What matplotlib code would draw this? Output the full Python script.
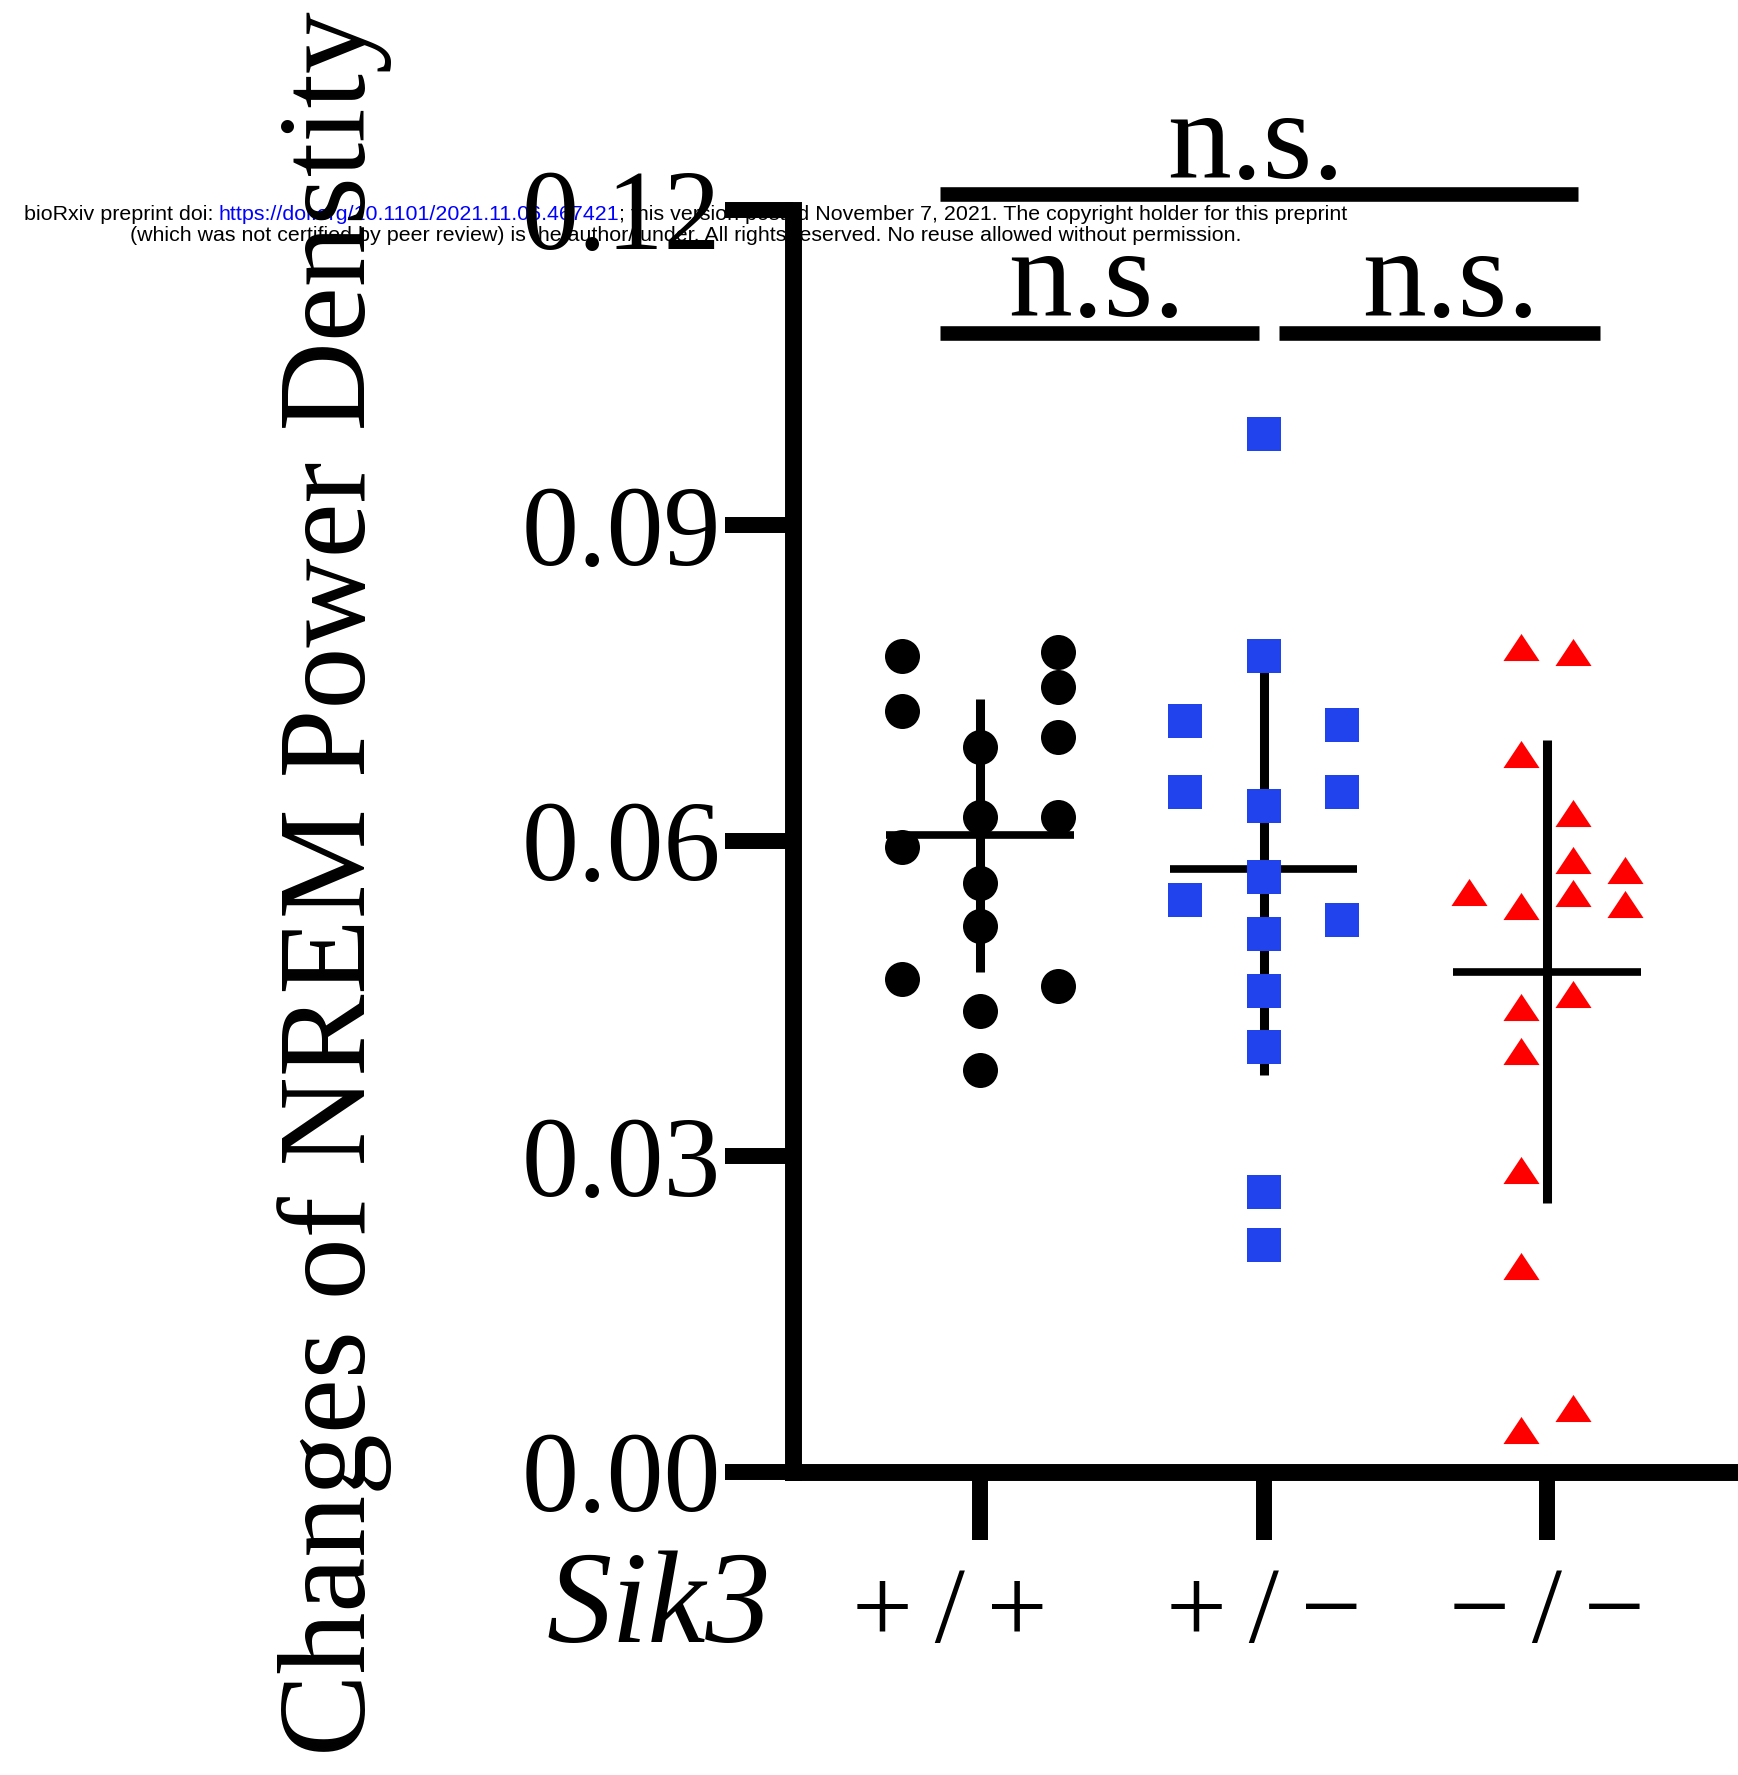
import matplotlib.pyplot as plt
import matplotlib.transforms as mtransforms
import numpy as np

plt.rcParams['font.family'] = ['Liberation Serif', 'DejaVu Serif']

# change of NREM power density
genotypes = ["+\u2009/\u2009+", "+\u2009/\u2009\u2212", "\u2212\u2009/\u2009\u2212"]
wt = [0.0775, 0.0723, 0.0594, 0.0468,
      0.0689, 0.0622, 0.0560, 0.0519, 0.0438, 0.0382,
      0.0779, 0.0746, 0.0698, 0.0622, 0.0462]
het = [0.0714, 0.0646, 0.0543,
       0.0987, 0.0775, 0.0633, 0.0565, 0.0511, 0.0457, 0.0404, 0.0266, 0.0215,
       0.0710, 0.0646, 0.0524]
ko = [0.0551,
      0.0784, 0.0682, 0.0538, 0.0442, 0.0400, 0.0287, 0.0195, 0.0039,
      0.0779, 0.0626, 0.0581, 0.0550, 0.0454, 0.0060,
      0.0572, 0.0540]

# swarm column of each point (layout only)
wt_col = [-3] * 4 + [0] * 6 + [3] * 5
het_col = [-3] * 3 + [0] * 9 + [3] * 3
ko_col = [-3] + [-1] * 8 + [1] * 6 + [3] * 2
col_step = 0.092

# pairwise comparisons (all n.s.)
comparisons = [(0, 1, 'n.s.'), (1, 2, 'n.s.'), (0, 2, 'n.s.')]

W, H = 1738, 1775
fig = plt.figure(figsize=(W / 100, H / 100), dpi=100)
ax = fig.add_axes([793 / W, 303.5 / H, 1 - 793 / W, 1262 / H])
ax.patch.set_alpha(0)

groups = [
    (wt, wt_col, 'o', 'black', 25.2),
    (het, het_col, 's', '#2043EE', 23.8),
    (ko, ko_col, [(-1, -0.75), (1, -0.75), (0, 0.75)], '#FF0000', 26),
]

for i, (vals, cols, mk, c, ms) in enumerate(groups):
    vals = np.array(vals)
    m = vals.mean()
    sd = vals.std(ddof=1)
    ax.plot([i, i], [m - sd, m + sd], color='k', lw=6.5, solid_capstyle='butt', zorder=2)
    ax.plot([i - 0.33, i + 0.33], [m, m], color='k', lw=5.5, solid_capstyle='butt', zorder=2)
    xs = i + np.array(cols) * col_step
    ax.plot(xs, vals, linestyle='none', marker=mk, ms=ms, color=c,
            markeredgewidth=0, clip_on=False, zorder=3)

ax.set_xlim(-0.6596, 2.6737)
ax.set_ylim(0, 0.12)
ax.set_yticks([0, 0.03, 0.06, 0.09, 0.12])
ax.set_yticklabels(['%.2f' % v for v in [0, 0.03, 0.06, 0.09, 0.12]])
ax.set_xticks([0, 1, 2])
ax.set_xticklabels(genotypes)
ax.tick_params(axis='both', length=49, width=11.5, color='black')
ax.tick_params(axis='y', pad=3, labelsize=82)
ax.tick_params(axis='x', pad=20, labelsize=78)
for s in ['top', 'right']:
    ax.spines[s].set_visible(False)
for s in ['left', 'bottom']:
    ax.spines[s].set_linewidth(12.2)

# first genotype label sits a little left of its tick in the original
lab0 = ax.get_xticklabels()[0]
lab0.set_transform(lab0.get_transform() + mtransforms.ScaledTranslation(-0.3, 0, fig.dpi_scale_trans))

# significance bars
bar_y = {(0, 1): 0.10826, (1, 2): 0.10826, (0, 2): 0.12143}
bar_x = {(0, 1): (-0.141, 0.984), (1, 2): (1.055, 2.187), (0, 2): (-0.141, 2.109)}
txt_x = {(0, 1): 0.413, (1, 2): 1.66, (0, 2): 0.974}
for a, b, lab in comparisons:
    x0, x1 = bar_x[(a, b)]
    y = bar_y[(a, b)]
    ax.plot([x0, x1], [y, y], color='k', lw=10.5, solid_capstyle='butt', clip_on=False)
    ax.text(txt_x[(a, b)], y + 0.0016, lab, ha='center', va='baseline',
            fontsize=92, clip_on=False)

fig.text(365 / W, 1764 / H, 'Changes of NREM Power Denstity', rotation=90,
         rotation_mode='anchor', ha='right', va='baseline', fontsize=89)
fig.text(546 / W, (H - 1642) / H, 'Sik3', style='italic', fontsize=94,
         ha='left', va='baseline')

# bioRxiv watermark, under the chart
r = fig.canvas.get_renderer()


def width(s, size):
    t = fig.text(0, 0, 'A' + s + 'A', fontsize=size, family='Liberation Sans')
    t0 = fig.text(0, 0, 'AA', fontsize=size, family='Liberation Sans')
    w = t.get_window_extent(r).width - t0.get_window_extent(r).width
    t.remove()
    t0.remove()
    return w


line1 = [("bioRxiv preprint doi: ", 'black'),
         ("https://doi.org/10.1101/2021.11.06.467421", 'blue'),
         ("; this version posted November 7, 2021. The copyright holder for this preprint", 'black')]
line2 = [("(which was not certified by peer review) is the author/funder. "
          "All rights reserved. No reuse allowed without permission.", 'black')]

size = 10 * 1322 / sum(width(s, 10) for s, _ in line1)
for parts, yc in [(line1, 214), (line2, 235.5)]:
    total = sum(width(s, size) for s, _ in parts)
    x = 686 - total / 2
    for s, c in parts:
        fig.text(x / W, (H - yc) / H, s, color=c, fontsize=size, family='Liberation Sans',
                 ha='left', va='center', zorder=-1)
        x += width(s, size)

plt.savefig('out.png', dpi=100)
